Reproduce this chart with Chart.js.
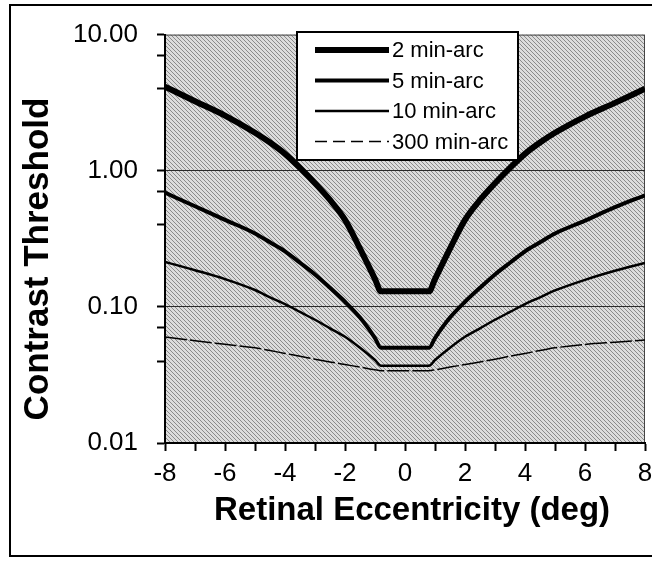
<!DOCTYPE html>
<html>
<head>
<meta charset="utf-8">
<script src="https://cdn.jsdelivr.net/npm/chart.js@4.4.1/dist/chart.umd.min.js"></script>
<style>
  html, body { margin: 0; padding: 0; background: #fff; }
  #wrap { width: 652px; height: 561px; }
</style>
</head>
<body>
<div id="wrap"><canvas id="wykres" width="652" height="561"></canvas></div>
<script>
// eccentricity (deg) and contrast thresholds
const ecc   = [-8, -7, -6, -5, -4.5, -4, -3.5, -3, -2.5, -2, -1.5, -1, -0.8,
               0.8, 1, 1.5, 2, 2.5, 3, 3.5, 4, 4.5, 5, 6, 7, 8];
const ct2   = [4.15, 3.24, 2.54, 1.9, 1.61, 1.33, 1.05, 0.81, 0.61, 0.436, 0.268, 0.16, 0.13,
               0.13, 0.16, 0.268, 0.436, 0.61, 0.81, 1.05, 1.33, 1.61, 1.9, 2.5, 3.15, 4.0];
const ct5   = [0.69, 0.548, 0.436, 0.346, 0.298, 0.256, 0.211, 0.173, 0.138, 0.109, 0.0834, 0.059, 0.05,
               0.05, 0.059, 0.0834, 0.109, 0.138, 0.173, 0.211, 0.256, 0.298, 0.346, 0.43, 0.54, 0.66];
const ct10  = [0.214, 0.186, 0.16, 0.133, 0.1175, 0.1047, 0.0918, 0.0804, 0.0696, 0.0603, 0.0501, 0.0407, 0.037,
               0.037, 0.0407, 0.0501, 0.0603, 0.0696, 0.0804, 0.0918, 0.1047, 0.1175, 0.132, 0.158, 0.184, 0.21];
const ct300 = [0.060, 0.0564, 0.0531, 0.050, 0.0478, 0.0455, 0.0434, 0.0413, 0.0394, 0.0377, 0.0361, 0.0345, 0.034,
               0.034, 0.0345, 0.0361, 0.0377, 0.0394, 0.0413, 0.0434, 0.0455, 0.0478, 0.050, 0.053, 0.055, 0.057];

const seriesNames = ['2 min-arc', '5 min-arc', '10 min-arc', '300 min-arc'];
const yMajor = [0.01, 0.1, 1, 10];
const xTicks = [-8, -7, -6, -5, -4, -3, -2, -1, 0, 1, 2, 3, 4, 5, 6, 7, 8];
const xTitle = 'Retinal Eccentricity (deg)';
const yTitle = 'Contrast Threshold';

// ticki na osi log: dekady + 2..9
const yTicks = [];
for (let i = 0; i < yMajor.length - 1; i++) {
    yTicks.push(yMajor[i]);
    for (let k = 2; k <= 9; k++) yTicks.push(yMajor[i] * k);
}
yTicks.push(yMajor[yMajor.length - 1]);

const FONT = "'Liberation Sans', Arial, sans-serif";

function punkty(vals) {
    return ecc.map((e, i) => ({ x: e, y: vals[i] }));
}

// szare tlo w obszarze wykresu (kreskowanie)
function wzorTla(ctx) {
    const c = document.createElement('canvas');
    c.width = 8; c.height = 8;
    const g = c.getContext('2d');
    g.fillStyle = '#dcdcdc';
    g.fillRect(0, 0, 8, 8);
    g.fillStyle = '#8a8a8a';
    for (let y = 0; y < 8; y++) {
        for (let x = 0; x < 8; x++) {
            if ((x - y + 16) % 4 === 0) g.fillRect(x, y, 1, 1);
        }
    }
    return ctx.createPattern(c, 'repeat');
}

const tloPlugin = {
    id: 'tlo',
    beforeDraw(chart) {
        const { ctx, chartArea: a } = chart;
        ctx.save();
        ctx.fillStyle = '#fff';
        ctx.fillRect(0, 0, chart.width, chart.height);
        ctx.fillStyle = wzorTla(ctx);
        ctx.fillRect(a.left, a.top, a.right - a.left, a.bottom - a.top);
        ctx.strokeStyle = '#444';
        ctx.lineWidth = 1;
        ctx.strokeRect(a.left + 0.5, a.top + 0.5, a.right - a.left - 1, a.bottom - a.top - 1);
        ctx.restore();
    },
    afterDraw(chart) {
        const ctx = chart.ctx;
        ctx.save();
        // ramka calego rysunku
        ctx.strokeStyle = '#000';
        ctx.lineWidth = 2;
        ctx.strokeRect(10, 5, 700, 551);
        ctx.fillStyle = '#000';
        ctx.textAlign = 'center';
        ctx.textBaseline = 'middle';
        // tytul osi X
        ctx.font = "bold 33px " + FONT;
        ctx.fillText(xTitle, 412, 511);
        // tytul osi Y
        ctx.translate(38, 259);
        ctx.rotate(-Math.PI / 2);
        ctx.font = "bold 35px " + FONT;
        ctx.fillText(yTitle, 0, 0);
        ctx.restore();
    }
};

const legendaPlugin = {
    id: 'legenda',
    afterDatasetsDraw(chart) {
        const ctx = chart.ctx;
        const bx = 297, by = 32, bw = 221, bh = 128;
        ctx.save();
        ctx.fillStyle = '#fff';
        ctx.fillRect(bx, by, bw, bh);
        ctx.strokeStyle = '#000';
        ctx.lineWidth = 2;
        ctx.strokeRect(bx, by, bw, bh);
        ctx.font = "22px " + FONT;
        ctx.textBaseline = 'middle';
        ctx.fillStyle = '#000';
        chart.data.datasets.forEach((ds, i) => {
            const y = by + 18 + i * 30.5;
            ctx.beginPath();
            ctx.lineWidth = ds.borderWidth;
            ctx.setLineDash(ds.legendDash || []);
            ctx.moveTo(bx + 18, y);
            ctx.lineTo(bx + 92, y);
            ctx.stroke();
            ctx.setLineDash([]);
            ctx.fillText(ds.label, bx + 95, y + 1);
        });
        ctx.restore();
    }
};

const ctx = document.getElementById('wykres').getContext('2d');
const chart = new Chart(ctx, {
    type: 'line',
    data: {
        datasets: [
            { label: seriesNames[0], data: punkty(ct2),   borderColor: '#000', borderWidth: 6 },
            { label: seriesNames[1], data: punkty(ct5),   borderColor: '#000', borderWidth: 4 },
            { label: seriesNames[2], data: punkty(ct10),  borderColor: '#000', borderWidth: 2.5 },
            { label: seriesNames[3], data: punkty(ct300), borderColor: '#000', borderWidth: 1.5,
              borderDash: [22, 3], legendDash: [12, 6] }
        ]
    },
    options: {
        responsive: false,
        animation: false,
        devicePixelRatio: 1,
        layout: { padding: { left: 0, top: 29, right: 7, bottom: 0 } },
        elements: {
            point: { radius: 0 },
            line: { cubicInterpolationMode: 'monotone', fill: false }
        },
        plugins: {
            legend: { display: false },
            tooltip: { enabled: false }
        },
        scales: {
            x: {
                type: 'linear',
                min: -8,
                max: 8,
                afterFit(scale) {
                    scale.height = 118;
                    scale.paddingLeft = 0;
                    scale.paddingRight = 0;
                },
                afterBuildTicks(scale) { scale.ticks = xTicks.map(v => ({ value: v })); },
                border: { color: '#000', width: 2 },
                grid: { drawOnChartArea: false, tickColor: '#000', tickLength: 8, tickWidth: 2 },
                ticks: {
                    autoSkip: false,
                    maxRotation: 0,
                    padding: 7,
                    color: '#000',
                    font: { family: FONT, size: 26 },
                    callback: (v) => (v % 2 === 0 ? String(v) : '')
                }
            },
            y: {
                type: 'logarithmic',
                min: 0.01,
                max: 10,
                afterFit(scale) { scale.width = 165; },
                afterBuildTicks(scale) {
                    scale.ticks = yTicks.map(v => ({ value: v, major: yMajor.includes(v) }));
                },
                border: { color: '#000', width: 2 },
                grid: {
                    color: (c) => (c.tick && (c.tick.value === 1 || c.tick.value === 0.1) ? '#2a2a2a' : 'rgba(0,0,0,0)'),
                    tickColor: '#000',
                    tickLength: 8,
                    tickWidth: 2,
                    lineWidth: 1
                },
                ticks: {
                    padding: 19,
                    color: '#000',
                    font: { family: FONT, size: 26 },
                    callback: (v) => (yMajor.includes(v) ? Number(v).toFixed(2) : '')
                }
            }
        }
    },
    plugins: [tloPlugin, legendaPlugin]
});
</script>
</body>
</html>
